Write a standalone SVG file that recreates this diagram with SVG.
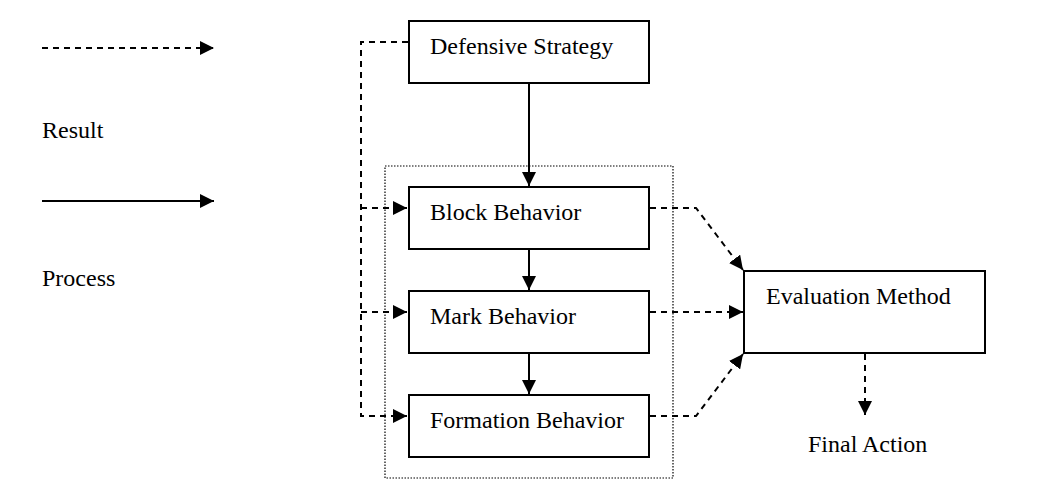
<svg xmlns="http://www.w3.org/2000/svg" width="1038" height="501" viewBox="0 0 1038 501">
<style>
text{font-family:"Liberation Serif",serif;font-size:24px;fill:#000}
.box{fill:#fff;stroke:#000;stroke-width:2}
.s{fill:none;stroke:#000;stroke-width:2}
.d{fill:none;stroke:#000;stroke-width:2;stroke-dasharray:6,5}
</style>
<defs><marker id="b" viewBox="0 0 10 10" refX="10" refY="5" markerWidth="14" markerHeight="14" markerUnits="userSpaceOnUse" orient="auto"><path d="M0,0L10,5L0,10z" fill="#000"/></marker></defs>
<rect x="385" y="166" width="288" height="312" fill="none" stroke="#000" stroke-width="1.2" stroke-dasharray="1.5,1.5"/>
<g id="connectors">
<path class="d" d="M42,48H214" marker-end="url(#b)"/>
<path class="s" d="M42,201H214" marker-end="url(#b)"/>
<path class="d" d="M408,42H361V416H407" marker-end="url(#b)"/>
<path class="d" d="M361,208H407" marker-end="url(#b)"/>
<path class="d" d="M361,312H407" marker-end="url(#b)"/>
<path class="s" d="M529,83V186" marker-end="url(#b)"/>
<path class="s" d="M529,249V290" marker-end="url(#b)"/>
<path class="s" d="M529,353V394" marker-end="url(#b)"/>
<path class="d" d="M650,208H696L743,270" marker-end="url(#b)"/>
<path class="d" d="M650,312H743" marker-end="url(#b)"/>
<path class="d" d="M650,416H696L743,354" marker-end="url(#b)"/>
<path class="d" d="M865,354V415" marker-end="url(#b)"/>
</g>
<text x="42" y="138">Result</text>
<text x="42" y="286">Process</text>
<g id="defensive"><rect class="box" x="409" y="21" width="240" height="62"/><text x="430" y="54">Defensive Strategy</text></g>
<g id="block"><rect class="box" x="409" y="187" width="240" height="62"/><text x="430" y="220">Block Behavior</text></g>
<g id="mark"><rect class="box" x="409" y="291" width="240" height="62"/><text x="430" y="324">Mark Behavior</text></g>
<g id="formation"><rect class="box" x="409" y="395" width="240" height="62"/><text x="430" y="428">Formation Behavior</text></g>
<g id="evaluation"><rect class="box" x="744" y="271" width="241" height="82"/><text x="766" y="304">Evaluation Method</text></g>
<text x="808" y="452">Final Action</text>
</svg>
